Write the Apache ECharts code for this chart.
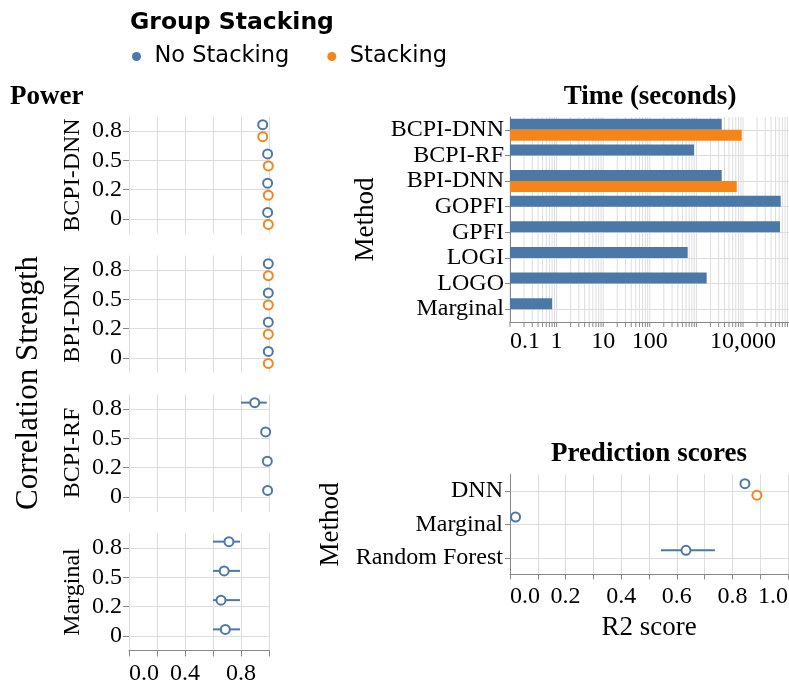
<!DOCTYPE html>
<html>
<head>
<meta charset="utf-8">
<title>Power, time and prediction scores</title>
<script src="https://cdn.jsdelivr.net/npm/echarts@6/dist/echarts.min.js"></script>
<style>
  html, body { margin: 0; padding: 0; background: #ffffff; }
  #chart { width: 789px; height: 686px; }
</style>
</head>
<body>
<div id="chart"></div>
<script>
// ---------- data ----------
// Power by correlation strength (order: 0, 0.2, 0.5, 0.8)
const corrLevels = ['0', '0.2', '0.5', '0.8'];
const powerMethods = ['BCPI-DNN', 'BPI-DNN', 'BCPI-RF', 'Marginal'];

const bcpiDnnNoStack = [0.99, 0.99, 0.99, 0.955];
const bcpiDnnStack = [0.995, 0.995, 0.995, 0.955];
const bpiDnnNoStack = [0.995, 0.995, 0.995, 0.995];
const bpiDnnStack = [0.995, 0.995, 0.995, 0.995];
const bcpiRfNoStack = [0.99, 0.988, 0.976, 0.898];
const bcpiRfLow = [0.99, 0.988, 0.976, 0.80];
const bcpiRfHigh = [0.99, 0.988, 0.976, 0.984];
const marginalNoStack = [0.688, 0.657, 0.68, 0.714];
const marginalLow = [0.6, 0.6, 0.6, 0.6];
const marginalHigh = [0.793, 0.793, 0.793, 0.793];

// Running time in seconds
const timeMethods = ['BCPI-DNN', 'BCPI-RF', 'BPI-DNN', 'GOPFI', 'GPFI', 'LOGI', 'LOGO', 'Marginal'];
const timeNoStack = [3490, 888, 3490, 64400, 62200, 650, 1660, 0.8];
const timeStack = [9380, null, 7330, null, null, null, null, null];
const timeTickValues = [0.1, 1, 10, 100, 1000, 10000, 100000];
const timeTickLabels = ['0.1', '1', '10', '100', '', '10,000', ''];

// Prediction scores (R2)
const predMethods = ['DNN', 'Marginal', 'Random Forest'];
const r2NoStack = [0.845, 0.02, 0.633];
const r2Stack = [0.888, null, null];
const r2Low = [0.845, 0.02, 0.543];
const r2High = [0.845, 0.02, 0.737];

// ---------- styling ----------
const BLUE = '#4c78a8';
const ORANGE = '#f58518';
const GRID = '#dddddd';
const DOMAIN = '#888888';
const SERIF = '"Liberation Serif", "Times New Roman", serif';
const SANS = '"DejaVu Sans", sans-serif';
const LABEL_SIZE = 24;
const TITLE_SIZE = 27;

// log-scale grid: every k * 10^n between the axis bounds
const logGridValues = [];
for (let e = -1; e <= 4; e++) {
  for (let k = 1; k <= 9; k++) logGridValues.push(+(k * Math.pow(10, e)).toPrecision(3));
}
logGridValues.push(100000);

const panelTops = [116.5, 255.5, 394.5, 533.5];
const panelHeight = 117;

const chart = echarts.init(document.getElementById('chart'), null, { renderer: 'canvas' });

const grids = [];
const xAxes = [];
const yAxes = [];
const series = [];

function labelText(extra) {
  return Object.assign({ fontFamily: SERIF, fontSize: LABEL_SIZE, color: '#000' }, extra || {});
}

function categoryAxis(idx, cats, inverse, showLine, tickLen, margin, name, nameGap, nameSize) {
  return {
    type: 'category', gridIndex: idx, data: cats, inverse: inverse,
    axisLine: { show: showLine, lineStyle: { color: DOMAIN, width: 1 } },
    axisTick: { show: true, interval: 0, length: tickLen, alignWithLabel: true, lineStyle: { color: DOMAIN } },
    axisLabel: Object.assign({ margin: margin, interval: 0, hideOverlap: false }, labelText()),
    splitLine: { show: true, interval: 0, alignWithLabel: true, lineStyle: { color: GRID, width: 1 } },
    name: name, nameLocation: 'middle', nameRotate: 90, nameGap: nameGap,
    nameTextStyle: labelText({ fontSize: nameSize })
  };
}

function pointSeries(name, color, values, cats, idx, offset) {
  return {
    type: 'scatter', name: name, xAxisIndex: idx, yAxisIndex: idx,
    data: values.map((v, i) => v == null ? null : [v, cats[i]]).filter(d => d),
    symbol: 'circle', symbolSize: 9, symbolOffset: [0, offset],
    itemStyle: { color: '#ffffff', borderColor: color, borderWidth: 2, opacity: 1 },
    z: 4, silent: true
  };
}

function errorBarSeries(lows, highs, idx, offset) {
  return {
    type: 'custom', name: 'ci', xAxisIndex: idx, yAxisIndex: idx,
    data: lows.map((lo, i) => [lo, highs[i], i]),
    encode: { x: [0, 1], y: 2 },
    renderItem: function (params, api) {
      const a = api.coord([api.value(0), api.value(2)]);
      const b = api.coord([api.value(1), api.value(2)]);
      return {
        type: 'line',
        shape: { x1: a[0], y1: a[1] + offset, x2: b[0], y2: b[1] + offset },
        style: { stroke: BLUE, lineWidth: 2 }
      };
    },
    z: 3, silent: true
  };
}

// ---------- Power facets ----------
const powerSets = [
  { no: bcpiDnnNoStack, st: bcpiDnnStack },
  { no: bpiDnnNoStack, st: bpiDnnStack },
  { no: bcpiRfNoStack, low: bcpiRfLow, high: bcpiRfHigh },
  { no: marginalNoStack, low: marginalLow, high: marginalHigh }
];

powerMethods.forEach((m, i) => {
  const last = i === powerMethods.length - 1;
  grids.push({ left: 129, top: panelTops[i], width: 140, height: panelHeight, outerBoundsMode: 'none', containLabel: false });
  xAxes.push({
    type: 'value', gridIndex: i, min: 0, max: 1, interval: 0.2,
    axisLine: { show: last, lineStyle: { color: DOMAIN, width: 1 } },
    axisTick: { show: last, length: 6, lineStyle: { color: DOMAIN } },
    axisLabel: {
      show: last, margin: 11, alignMinLabel: 'left',
      formatter: v => (Math.round(v * 10) % 4 === 0 && v < 1) ? v.toFixed(1) : '',
      ...labelText()
    },
    splitLine: { show: true, lineStyle: { color: GRID, width: 1 } }
  });
  yAxes.push(categoryAxis(i, corrLevels, false, false, 6, 7, m, 44, LABEL_SIZE));
  const set = powerSets[i];
  if (set.low) series.push(errorBarSeries(set.low, set.high, i, -6.5));
  series.push(pointSeries('No Stacking', BLUE, set.no, corrLevels, i, -6.5));
  if (set.st) series.push(pointSeries('Stacking', ORANGE, set.st, corrLevels, i, 5.5));
});

// ---------- Time (seconds) ----------
const T = 4;
grids.push({ left: 510, top: 117, width: 279.6, height: 205, outerBoundsMode: 'none', containLabel: false });
xAxes.push({
  type: 'log', logBase: 10, gridIndex: T, min: 0.1, max: 100000, splitNumber: 6, startValue: 0.1,
  axisLine: { show: true, lineStyle: { color: DOMAIN, width: 1 } },
  axisTick: { show: false },
  splitLine: { show: false },
  axisLabel: {
    margin: 8, alignMinLabel: 'left', showMaxLabel: false,
    formatter: v => {
      const i = timeTickValues.findIndex(t => Math.abs(Math.log10(t) - Math.log10(v)) < 1e-6);
      return i < 0 ? '' : timeTickLabels[i];
    },
    ...labelText()
  }
});
yAxes.push(categoryAxis(T, timeMethods, true, true, 5, 6, 'Method', 131, TITLE_SIZE));
// log grid lines and tick marks drawn through the log axis
series.push({
  type: 'custom', name: 'logGrid', xAxisIndex: T, yAxisIndex: T,
  data: logGridValues.map(v => [v, 0]),
  encode: { x: 0, y: 1 },
  renderItem: function (params, api) {
    const x = api.coord([api.value(0), 0])[0];
    const cs = params.coordSys;
    const bottom = cs.y + cs.height;
    return {
      type: 'group',
      children: [
        { type: 'line', shape: { x1: x, y1: cs.y, x2: x, y2: bottom }, style: { stroke: GRID, lineWidth: 1 } },
        { type: 'line', shape: { x1: x, y1: bottom, x2: x, y2: bottom + 5 }, style: { stroke: DOMAIN, lineWidth: 1 } }
      ]
    };
  },
  z: -1, silent: true
});
series.push({
  type: 'bar', name: 'No Stacking', xAxisIndex: T, yAxisIndex: T,
  data: timeNoStack, barWidth: 11, barGap: '0%',
  itemStyle: { color: BLUE }, z: 2, silent: true
});
series.push({
  type: 'bar', name: 'Stacking', xAxisIndex: T, yAxisIndex: T,
  data: timeStack, barWidth: 11, barGap: '0%',
  itemStyle: { color: ORANGE }, z: 2, silent: true
});

// ---------- Prediction scores ----------
const P = 5;
grids.push({ left: 510, top: 474.5, width: 278, height: 100, outerBoundsMode: 'none', containLabel: false });
xAxes.push({
  type: 'value', gridIndex: P, min: 0, max: 1, interval: 0.1,
  axisLine: { show: true, lineStyle: { color: DOMAIN, width: 1 } },
  axisTick: { show: true, length: 5, lineStyle: { color: DOMAIN } },
  axisLabel: {
    margin: 10, alignMinLabel: 'left', alignMaxLabel: 'right',
    formatter: v => (Math.round(v * 10) % 2 === 0) ? v.toFixed(1) : '',
    ...labelText()
  },
  splitLine: { show: true, lineStyle: { color: GRID, width: 1 } },
  name: 'R2 score', nameLocation: 'middle', nameGap: 40,
  nameTextStyle: labelText({ fontSize: TITLE_SIZE })
});
yAxes.push(categoryAxis(P, predMethods, true, true, 5, 7, 'Method', 166, TITLE_SIZE));
series.push(errorBarSeries(r2Low, r2High, P, -7.5));
series.push(pointSeries('No Stacking', BLUE, r2NoStack, predMethods, P, -7.5));
series.push(pointSeries('Stacking', ORANGE, r2Stack, predMethods, P, 4));

// ---------- titles ----------
function titleText(text, x, y, align, size, font) {
  return {
    type: 'text', x: x, y: y, silent: true,
    style: {
      text: text, align: align, verticalAlign: 'middle',
      font: 'bold ' + size + 'px ' + (font || SERIF), fill: '#000'
    }
  };
}

const graphics = [
  titleText('Group Stacking', 130, 23, 'left', 23.5, SANS),
  titleText('Power', 10, 97, 'left', TITLE_SIZE),
  titleText('Time (seconds)', 650, 97, 'center', TITLE_SIZE),
  titleText('Prediction scores', 649, 454, 'center', TITLE_SIZE),
  {
    type: 'text', x: 29, y: 383, rotation: Math.PI / 2, silent: true,
    style: {
      text: 'Correlation Strength', align: 'center', verticalAlign: 'middle',
      font: '31px ' + SERIF, fill: '#000'
    }
  }
];

chart.setOption({
  animation: false,
  backgroundColor: '#ffffff',
  legend: {
    left: 127, top: 40, orient: 'horizontal',
    icon: 'circle', itemWidth: 26, itemHeight: 9, itemGap: 38,
    selectedMode: false,
    textStyle: { fontFamily: SANS, fontSize: 22.5, color: '#000' },
    data: [
      { name: 'No Stacking', itemStyle: { color: BLUE, borderWidth: 0 } },
      { name: 'Stacking', itemStyle: { color: ORANGE, borderWidth: 0 } }
    ]
  },
  grid: grids,
  xAxis: xAxes,
  yAxis: yAxes,
  series: series,
  graphic: graphics
});
</script>
</body>
</html>
